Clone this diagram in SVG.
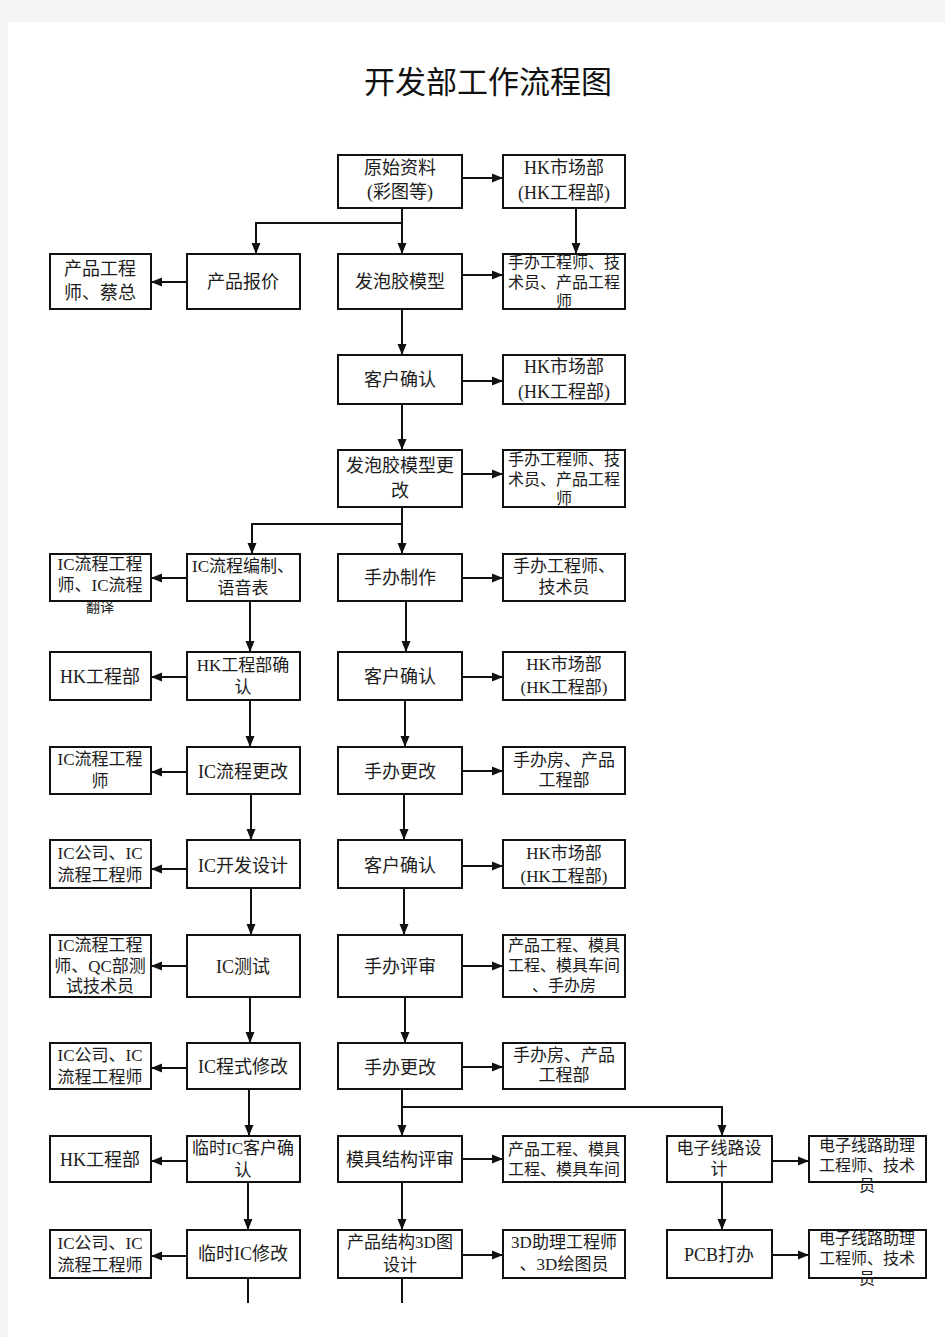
<svg xmlns="http://www.w3.org/2000/svg" width="945" height="1337" viewBox="0 0 945 1337">
<defs>
<marker id="ah" markerUnits="userSpaceOnUse" markerWidth="12" markerHeight="10" refX="11" refY="5" orient="auto">
<path d="M0,0.5 L11,5 L0,9.5 Z" fill="#111"/>
</marker>
<style>
.b{fill:#fff;stroke:#111;stroke-width:2}
.t{font-family:"Liberation Serif","Noto Sans CJK SC",serif;font-size:18px;fill:#1c1c1c;text-anchor:middle}
.m{font-size:17px}
.s{font-size:16px}
.c path{fill:none;stroke:#111;stroke-width:2}
.a{marker-end:url(#ah)}
</style>
</defs>
<rect width="945" height="1337" fill="#f4f4f4"/>
<rect x="8" y="22" width="937" height="1315" fill="#fff"/>
<text x="488" y="93" style="font-family:'Liberation Serif','Noto Sans CJK SC',serif;font-size:31px;fill:#111;text-anchor:middle">开发部工作流程图</text>

<g class="c">
<path class="a" d="M462,178 H503"/>
<path class="a" d="M576,208 V254"/>
<path class="a" d="M402,208 V254"/>
<path class="a" d="M402,223 H256 V254"/>
<path class="a" d="M187,282 H151"/>
<path class="a" d="M462,275 H503"/>
<path class="a" d="M402,309 V355"/>
<path class="a" d="M462,381 H503"/>
<path class="a" d="M402,404 V450"/>
<path class="a" d="M462,474 H503"/>
<path class="a" d="M402,507 V554"/>
<path class="a" d="M402,524 H252 V554"/>
<path class="a" d="M187,578 H151"/>
<path class="a" d="M462,578 H503"/>
<path class="a" d="M250,601 V652"/>
<path class="a" d="M406,601 V652"/>
<path class="a" d="M187,677 H151"/>
<path class="a" d="M462,677 H503"/>
<path class="a" d="M250,700 V747"/>
<path class="a" d="M405,700 V747"/>
<path class="a" d="M187,772 H151"/>
<path class="a" d="M462,771 H503"/>
<path class="a" d="M251,794 V840"/>
<path class="a" d="M404,794 V840"/>
<path class="a" d="M187,869 H151"/>
<path class="a" d="M462,866 H503"/>
<path class="a" d="M251,888 V935"/>
<path class="a" d="M404,888 V935"/>
<path class="a" d="M187,966 H151"/>
<path class="a" d="M462,966 H503"/>
<path class="a" d="M250,997 V1043"/>
<path class="a" d="M405,997 V1043"/>
<path class="a" d="M187,1068 H151"/>
<path class="a" d="M462,1067 H503"/>
<path class="a" d="M249,1089 V1136"/>
<path class="a" d="M402,1089 V1136"/>
<path class="a" d="M402,1107 H722 V1136"/>
<path class="a" d="M187,1161 H151"/>
<path class="a" d="M462,1159 H503"/>
<path class="a" d="M772,1161 H809"/>
<path class="a" d="M248,1182 V1230"/>
<path class="a" d="M402,1182 V1230"/>
<path class="a" d="M722,1182 V1230"/>
<path class="a" d="M187,1256 H151"/>
<path class="a" d="M462,1255 H503"/>
<path class="a" d="M772,1255 H809"/>
<path d="M248,1278 V1303"/>
<path d="M402,1278 V1303"/>
</g>

<g id="n_yuanshi"><rect class="b" x="338" y="155" width="124" height="53"/><text class="t" x="400" y="174">原始资料</text><text class="t" x="400" y="198">(彩图等)</text></g>
<g id="n_hk1"><rect class="b" x="503" y="155" width="122" height="53"/><text class="t" x="564" y="174">HK市场部</text><text class="t" x="564" y="199">(HK工程部)</text></g>
<g id="n_cpgcs"><rect class="b" x="50" y="254" width="101" height="55"/><text class="t" x="100" y="275">产品工程</text><text class="t" x="100" y="299">师、蔡总</text></g>
<g id="n_baojia"><rect class="b" x="187" y="254" width="113" height="55"/><text class="t" x="243" y="288">产品报价</text></g>
<g id="n_fpj"><rect class="b" x="338" y="254" width="124" height="55"/><text class="t" x="400" y="288">发泡胶模型</text></g>
<g id="n_sb1"><rect class="b" x="503" y="254" width="122" height="55"/><text class="t s" x="564" y="268">手办工程师、技</text><text class="t s" x="564" y="288">术员、产品工程</text><text class="t s" x="564" y="307">师</text></g>

<g id="n_kh1"><rect class="b" x="338" y="355" width="124" height="49"/><text class="t" x="400" y="386">客户确认</text></g>
<g id="n_hk2"><rect class="b" x="503" y="355" width="122" height="49"/><text class="t" x="564" y="373">HK市场部</text><text class="t" x="564" y="398">(HK工程部)</text></g>

<g id="n_fpjgg"><rect class="b" x="338" y="450" width="124" height="57"/><text class="t" x="400" y="472">发泡胶模型更</text><text class="t" x="400" y="497">改</text></g>
<g id="n_sb2"><rect class="b" x="503" y="450" width="122" height="57"/><text class="t s" x="564" y="465">手办工程师、技</text><text class="t s" x="564" y="485">术员、产品工程</text><text class="t s" x="564" y="504">师</text></g>

<g id="n_iclcgcs1"><rect class="b" x="50" y="554" width="101" height="47"/><text class="t m" x="100" y="570">IC流程工程</text><text class="t m" x="100" y="591">师、IC流程</text><text class="t" x="100" y="612" style="font-size:14px">翻译</text></g>
<g id="n_iclcbz"><rect class="b" x="187" y="554" width="113" height="47"/><text class="t m" x="243" y="572">IC流程编制、</text><text class="t m" x="243" y="594">语音表</text></g>
<g id="n_sbzz"><rect class="b" x="338" y="554" width="124" height="47"/><text class="t" x="400" y="584">手办制作</text></g>
<g id="n_sb3"><rect class="b" x="503" y="554" width="122" height="47"/><text class="t m" x="564" y="572">手办工程师、</text><text class="t m" x="564" y="593">技术员</text></g>

<g id="n_hkgcb1"><rect class="b" x="50" y="652" width="101" height="48"/><text class="t" x="100" y="683">HK工程部</text></g>
<g id="n_hkqr"><rect class="b" x="187" y="652" width="113" height="48"/><text class="t m" x="243" y="671">HK工程部确</text><text class="t m" x="243" y="693">认</text></g>
<g id="n_kh2"><rect class="b" x="338" y="652" width="124" height="48"/><text class="t" x="400" y="683">客户确认</text></g>
<g id="n_hk3"><rect class="b" x="503" y="652" width="122" height="48"/><text class="t m" x="564" y="670">HK市场部</text><text class="t m" x="564" y="693">(HK工程部)</text></g>

<g id="n_iclcgcs2"><rect class="b" x="50" y="747" width="101" height="47"/><text class="t m" x="100" y="765">IC流程工程</text><text class="t m" x="100" y="787">师</text></g>
<g id="n_iclcgg"><rect class="b" x="187" y="747" width="113" height="47"/><text class="t" x="243" y="778">IC流程更改</text></g>
<g id="n_sbgg1"><rect class="b" x="338" y="747" width="124" height="47"/><text class="t" x="400" y="778">手办更改</text></g>
<g id="n_sbf1"><rect class="b" x="503" y="747" width="122" height="47"/><text class="t m" x="564" y="766">手办房、产品</text><text class="t m" x="564" y="786">工程部</text></g>

<g id="n_icgs1"><rect class="b" x="50" y="840" width="101" height="48"/><text class="t m" x="100" y="859">IC公司、IC</text><text class="t m" x="100" y="881">流程工程师</text></g>
<g id="n_ickf"><rect class="b" x="187" y="840" width="113" height="48"/><text class="t" x="243" y="872">IC开发设计</text></g>
<g id="n_kh3"><rect class="b" x="338" y="840" width="124" height="48"/><text class="t" x="400" y="872">客户确认</text></g>
<g id="n_hk4"><rect class="b" x="503" y="840" width="122" height="48"/><text class="t m" x="564" y="859">HK市场部</text><text class="t m" x="564" y="882">(HK工程部)</text></g>

<g id="n_iclcgcs3"><rect class="b" x="50" y="935" width="101" height="62"/><text class="t m" x="100" y="951">IC流程工程</text><text class="t m" x="100" y="972">师、QC部测</text><text class="t m" x="100" y="992">试技术员</text></g>
<g id="n_icts"><rect class="b" x="187" y="935" width="113" height="62"/><text class="t" x="243" y="973">IC测试</text></g>
<g id="n_sbps"><rect class="b" x="338" y="935" width="124" height="62"/><text class="t" x="400" y="973">手办评审</text></g>
<g id="n_cpgc1"><rect class="b" x="503" y="935" width="122" height="62"/><text class="t s" x="564" y="951">产品工程、模具</text><text class="t s" x="564" y="971">工程、模具车间</text><text class="t s" x="564" y="991">、手办房</text></g>

<g id="n_icgs2"><rect class="b" x="50" y="1043" width="101" height="46"/><text class="t m" x="100" y="1061">IC公司、IC</text><text class="t m" x="100" y="1083">流程工程师</text></g>
<g id="n_iccs"><rect class="b" x="187" y="1043" width="113" height="46"/><text class="t" x="243" y="1073">IC程式修改</text></g>
<g id="n_sbgg2"><rect class="b" x="338" y="1043" width="124" height="46"/><text class="t" x="400" y="1074">手办更改</text></g>
<g id="n_sbf2"><rect class="b" x="503" y="1043" width="122" height="46"/><text class="t m" x="564" y="1061">手办房、产品</text><text class="t m" x="564" y="1081">工程部</text></g>

<g id="n_hkgcb2"><rect class="b" x="50" y="1136" width="101" height="46"/><text class="t" x="100" y="1166">HK工程部</text></g>
<g id="n_lsqr"><rect class="b" x="187" y="1136" width="113" height="46"/><text class="t m" x="243" y="1154">临时IC客户确</text><text class="t m" x="243" y="1176">认</text></g>
<g id="n_mjjg"><rect class="b" x="338" y="1136" width="124" height="46"/><text class="t" x="400" y="1166">模具结构评审</text></g>
<g id="n_cpgc2"><rect class="b" x="503" y="1136" width="122" height="46"/><text class="t s" x="564" y="1155">产品工程、模具</text><text class="t s" x="564" y="1175">工程、模具车间</text></g>
<g id="n_dzxl"><rect class="b" x="667" y="1136" width="105" height="46"/><text class="t m" x="719" y="1154">电子线路设</text><text class="t m" x="719" y="1175">计</text></g>
<g id="n_dzzl1"><rect class="b" x="809" y="1136" width="117" height="46"/><text class="t s" x="867" y="1151">电子线路助理</text><text class="t s" x="867" y="1171">工程师、技术</text><text class="t s" x="867" y="1191">员</text></g>

<g id="n_icgs3"><rect class="b" x="50" y="1230" width="101" height="48"/><text class="t m" x="100" y="1249">IC公司、IC</text><text class="t m" x="100" y="1271">流程工程师</text></g>
<g id="n_lsxg"><rect class="b" x="187" y="1230" width="113" height="48"/><text class="t" x="243" y="1260">临时IC修改</text></g>
<g id="n_3d"><rect class="b" x="338" y="1230" width="124" height="48"/><text class="t m" x="400" y="1248">产品结构3D图</text><text class="t m" x="400" y="1271">设计</text></g>
<g id="n_3dzl"><rect class="b" x="503" y="1230" width="122" height="48"/><text class="t m" x="564" y="1248">3D助理工程师</text><text class="t m" x="564" y="1270">、3D绘图员</text></g>
<g id="n_pcb"><rect class="b" x="667" y="1230" width="105" height="48"/><text class="t" x="719" y="1261">PCB打办</text></g>
<g id="n_dzzl2"><rect class="b" x="809" y="1230" width="117" height="48"/><text class="t s" x="867" y="1244">电子线路助理</text><text class="t s" x="867" y="1264">工程师、技术</text><text class="t s" x="867" y="1284">员</text></g>
</svg>
